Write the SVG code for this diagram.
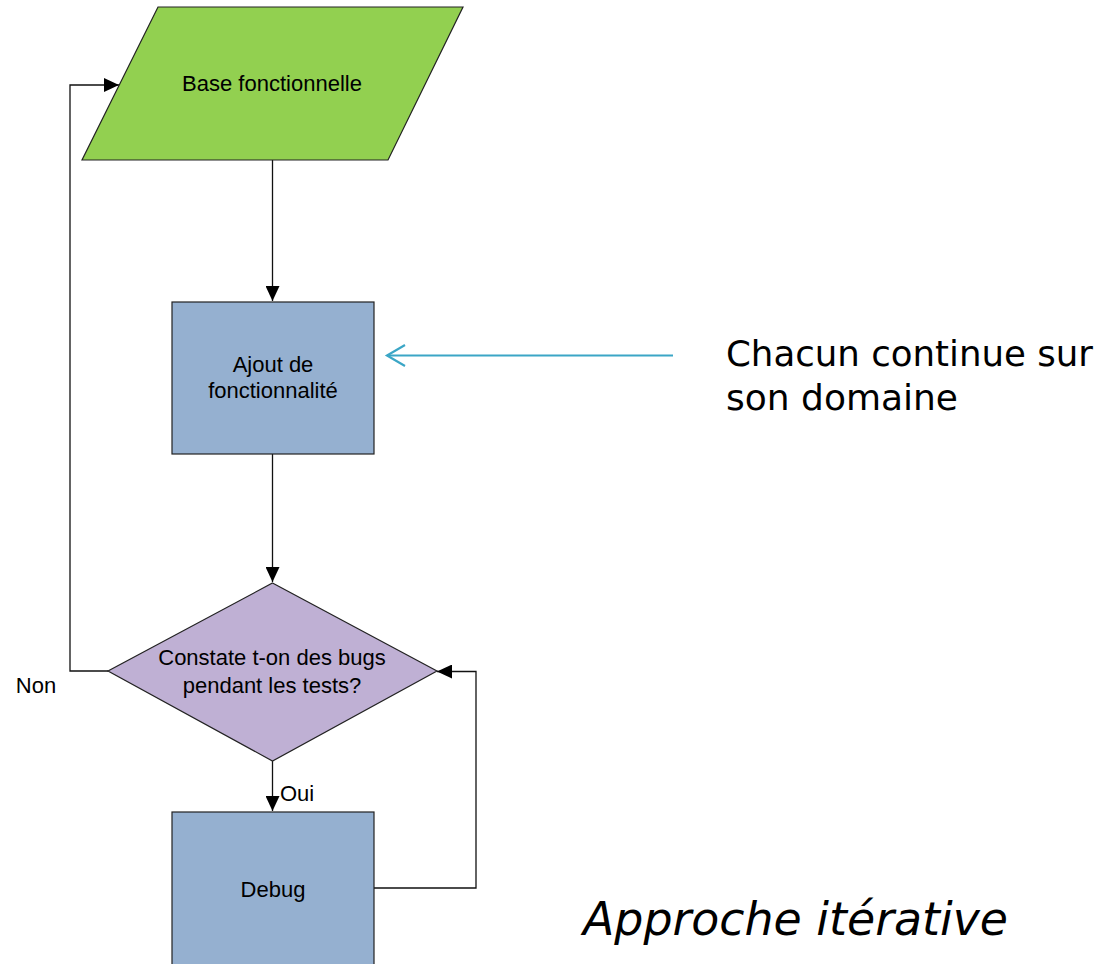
<svg xmlns="http://www.w3.org/2000/svg" width="1107" height="964" viewBox="0 0 1107 964">
<style>
.lbl{font-family:"Liberation Sans",Arial,sans-serif;font-size:22px;fill:#000;text-anchor:middle}
.edge{fill:none;stroke:#111;stroke-width:1.3}
.shape{stroke:#222;stroke-width:1.2}
.big{font-family:"DejaVu Sans",sans-serif;fill:#000}
.note{fill:none;stroke:#3ba6c6;stroke-width:2.2}
</style>
<defs>
<marker id="ah" markerWidth="16" markerHeight="14" refX="15" refY="7" orient="auto" markerUnits="userSpaceOnUse">
<path d="M0,0 L15,7 L0,14 Z" fill="#000"/>
</marker>
</defs>
<rect width="1107" height="964" fill="#fff"/>
<g id="connectors">
<path class="edge" d="M272.5,160 V301" marker-end="url(#ah)"/>
<path class="edge" d="M272.5,454 V582" marker-end="url(#ah)"/>
<path class="edge" d="M108,671 H70 V85 H119" marker-end="url(#ah)"/>
<path class="edge" d="M272.5,761 V811" marker-end="url(#ah)"/>
<path class="edge" d="M374,888 H476 V671.5 H437" marker-end="url(#ah)"/>
<path class="note" d="M673,355.5 H387"/>
<path class="note" d="M405,345 L387,355.5 L405,366"/>
</g>
<g id="base">
<polygon class="shape" points="158,7 463,7 388,160 82,160" fill="#92d050"/>
<text class="lbl" x="272" y="91">Base fonctionnelle</text>
</g>
<g id="ajout">
<rect class="shape" x="172" y="302" width="202" height="152" fill="#95b0d0"/>
<text class="lbl" x="273" y="372">Ajout de</text>
<text class="lbl" x="273" y="398">fonctionnalité</text>
</g>
<g id="decision">
<polygon class="shape" points="272.5,583 437,671 272.5,761 108,671" fill="#bfb0d4"/>
<text class="lbl" x="272" y="665">Constate t-on des bugs</text>
<text class="lbl" x="272" y="693">pendant les tests?</text>
</g>
<g id="debug">
<rect class="shape" x="172" y="812" width="202" height="170" fill="#95b0d0"/>
<text class="lbl" x="273" y="897">Debug</text>
</g>
<g id="labels">
<text class="lbl" x="36" y="693">Non</text>
<text class="lbl" x="280" y="801" style="text-anchor:start">Oui</text>
<text class="big" x="726" y="366" font-size="36" textLength="367" lengthAdjust="spacingAndGlyphs">Chacun continue sur</text>
<text class="big" x="726" y="410" font-size="36">son domaine</text>
<text class="big" x="583" y="935" font-size="46" font-style="italic" textLength="425" lengthAdjust="spacingAndGlyphs">Approche itérative</text>
</g>
</svg>
